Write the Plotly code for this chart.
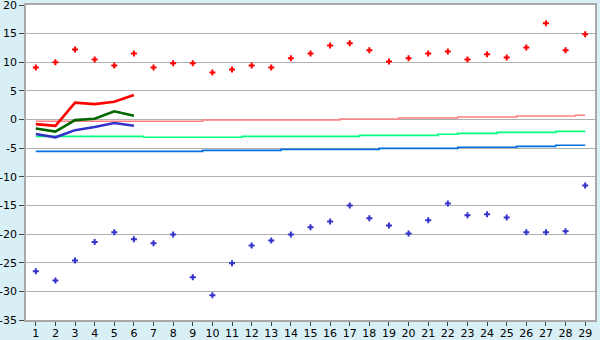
import plotly.graph_objects as go

days = list(range(1, 30))

# daily scatter values
red_pts = [9.1, 10.0, 12.25, 10.5, 9.45, 11.55, 9.1, 9.85, 9.85, 8.23,
           8.75, 9.45, 9.1, 10.7, 11.55, 12.95, 13.3, 12.08, 10.15, 10.7,
           11.55, 11.9, 10.5, 11.4, 10.85, 12.6, 16.8, 12.08, 14.9]
blue_pts = [-26.5, -28.1, -24.6, -21.4, -19.7, -20.9, -21.6, -20.05, -27.55, -30.7,
            -25.1, -22.0, -21.1, -20.05, -18.8, -17.8, -15.0, -17.25, -18.5, -19.9,
            -17.6, -14.65, -16.7, -16.55, -17.1, -19.7, -19.7, -19.5, -11.5]

# short bold lines (days 1-6)
bold_days = [1, 2, 3, 4, 5, 6]
red_line = [-0.8, -1.1, 2.95, 2.7, 3.1, 4.3]
green_line = [-1.55, -2.1, -0.1, 0.15, 1.45, 0.67]
blue_line = [-2.53, -3.1, -1.85, -1.3, -0.6, -1.08]

# thin stepped reference lines
pink_ref = [-0.3, -0.3, -0.3, -0.3, -0.3, -0.3, -0.3, -0.3, -0.3, -0.09,
            -0.09, -0.09, -0.09, -0.09, -0.09, -0.09, 0.09, 0.09, 0.09, 0.26,
            0.26, 0.26, 0.44, 0.44, 0.44, 0.61, 0.61, 0.61, 0.76]
green_ref = [-2.93, -2.93, -2.93, -2.93, -2.93, -2.93, -3.1, -3.1, -3.1, -3.1,
             -3.1, -2.93, -2.93, -2.93, -2.93, -2.93, -2.93, -2.76, -2.76, -2.76,
             -2.76, -2.58, -2.41, -2.41, -2.24, -2.24, -2.24, -2.06, -2.06]
blue_ref = [-5.55, -5.55, -5.55, -5.55, -5.55, -5.55, -5.55, -5.55, -5.55, -5.38,
            -5.38, -5.38, -5.38, -5.2, -5.2, -5.2, -5.2, -5.2, -5.03, -5.03,
            -5.03, -5.03, -4.85, -4.85, -4.85, -4.68, -4.68, -4.5, -4.5]

y_ticks = [20, 15, 10, 5, 0, -5, -10, -15, -20, -25, -30, -35]
y_labels = ["20", "15", "10", "5", "0", "-5", "-10", "-15", "-20", "-25", "-30", "-35"]

fig = go.Figure()

for vals, col in [(pink_ref, "#ff8080"), (green_ref, "#00ff80"), (blue_ref, "#0070e0")]:
    fig.add_trace(go.Scatter(x=days, y=vals, mode="lines",
                             line=dict(color=col, width=1.6, shape="hvh"),
                             hoverinfo="skip"))

for vals, col in [(red_line, "#ff0000"), (green_line, "#006600"), (blue_line, "#3333cc")]:
    fig.add_trace(go.Scatter(x=bold_days, y=vals, mode="lines",
                             line=dict(color=col, width=2.6)))

fig.add_trace(go.Scatter(x=days, y=red_pts, mode="markers",
                         marker=dict(symbol="cross", size=5, color="#ff0000",
                                     line=dict(width=0))))
fig.add_trace(go.Scatter(x=days, y=blue_pts, mode="markers",
                         marker=dict(symbol="cross", size=5, color="#3333cc",
                                     line=dict(width=0))))

fig.update_layout(
    width=600, height=340,
    margin=dict(l=26, r=5, t=5, b=20),
    paper_bgcolor="#d9eff6",
    plot_bgcolor="#ffffff",
    showlegend=False,
    font=dict(family="DejaVu Sans", size=11, color="#000000"),
    xaxis=dict(range=[0.5, 29.5], tickmode="array", tickvals=days,
               ticktext=[str(d) for d in days], automargin=False,
               ticklabeloverflow="allow", ticklabelstandoff=-2,
               showgrid=False, zeroline=False,
               showline=True, linecolor="#a8a8a8", linewidth=1.5, mirror=True,
               ticks="outside", ticklen=4, tickcolor="#444444", tickwidth=1),
    yaxis=dict(range=[-35, 20], tickmode="array", tickvals=y_ticks, ticktext=y_labels,
               automargin=False, ticklabeloverflow="allow",
               showgrid=True, gridcolor="#b0b0b0", gridwidth=1, zeroline=False,
               showline=True, linecolor="#a8a8a8", linewidth=1.5, mirror=True,
               ticks="outside", ticklen=5, tickcolor="#444444", tickwidth=1),
)

fig.write_html("out.html")
